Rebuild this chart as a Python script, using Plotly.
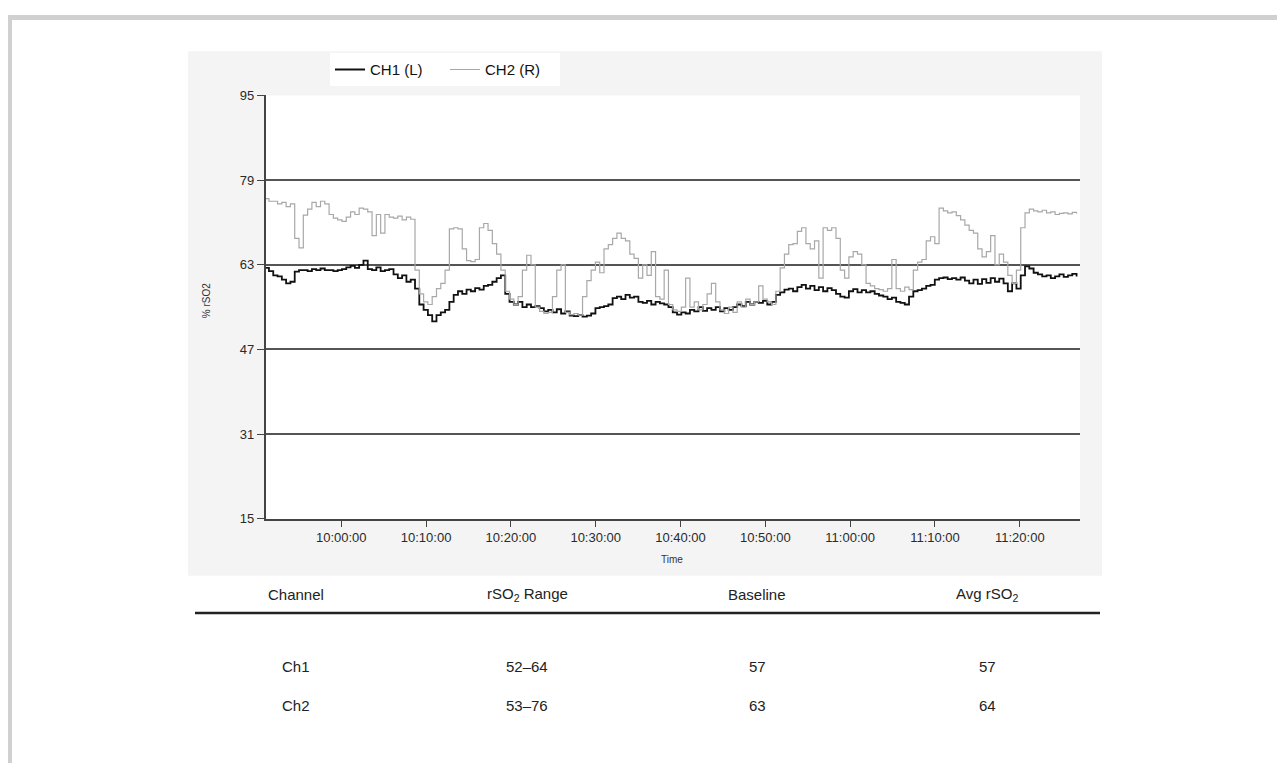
import plotly.graph_objects as go
import pandas as pd

# The page body has an 8px default margin, so the figure is offset by 8px;
# reference pixel positions are converted accordingly.
OFF = 8
W, H = 1277, 763


def px(x):
    return (x - OFF) / W


def py(y):
    return 1 - (y - OFF) / H


# ---------------- data ----------------
ch1_name = "CH1 (L)"
ch2_name = "CH2 (R)"

ch1 = [62.4, 61.8, 61, 60.8, 60.2, 59.5, 59.8, 61.7, 62, 62,
       61.8, 62.2, 62, 62.3, 62, 62, 61.8, 62, 62.2, 62.5,
       62.8, 62.4, 63, 63.8, 62.2, 62, 62.5, 61.8, 62, 62.2,
       61.2, 60.5, 61, 59.8, 60.2, 58.5, 55.5, 54.5, 53.5, 52.3,
       53.5, 54, 54.5, 56, 57.3, 58, 57.5, 58.3, 58, 58.6,
       58.3, 59, 59.2, 59.8, 60.5, 61, 57.5, 56, 55.5, 56,
       55, 55.5, 55, 55.2, 54.8, 54.2, 54.5, 54, 54.6, 53.8,
       54.2, 53.4, 53.3, 53.5, 53.2, 53.4, 53.8, 54.8, 55, 55.2,
       55.5, 56.7, 57, 56.5, 57.3, 56.8, 57, 56, 55.8, 56.2,
       55.5, 56, 55.7, 55.5, 55, 54, 53.6, 54, 53.8, 54.5,
       54.2, 55, 54.3, 54.8, 54.5, 55, 54.2, 54.8, 54.5, 55,
       55.5, 55.2, 56, 55.5, 56, 55.8, 56.2, 55.5, 56, 57.3,
       57.8, 58.3, 58.5, 58, 58.8, 59.2, 58.5, 59, 58.2, 58.8,
       58, 58.6, 58.2, 57.5, 57, 56.8, 58, 58.4, 57.8, 58.2,
       57.8, 58, 57.5, 57.2, 57, 56.5, 56.8, 56, 55.8, 55.5,
       57, 58, 58.2, 58.5, 59, 59.2, 60.2, 60.5, 60.6, 60.3,
       60.5, 60.2, 60.6, 60, 59.5, 60.2, 59.4, 60.3, 59.6, 60.5,
       59.8, 60.4, 59.5, 58, 59.5, 58.5, 61, 62.7, 62.3, 61.5,
       61.2, 60.8, 61, 60.5, 60.8, 61.2, 60.7, 61, 61.3, 60.8]

ch2 = [75.5, 75, 75, 74.5, 74.8, 74, 74.5, 68, 66.2, 72.4,
       73.5, 74.8, 74, 75, 74.5, 72.5, 71.8, 71.5, 71.2, 72,
       73, 72.5, 73.7, 73.5, 73, 68.5, 72.5, 69, 72.5, 72,
       71.8, 72.2, 71.5, 72, 71.6, 62, 57.5, 56, 55.5, 57,
       58.5, 59.5, 62, 69.8, 70, 69.8, 66, 63.8, 63.6, 64,
       70, 70.8, 69.5, 67, 65, 62, 58, 56.5, 55.5, 57,
       62, 64.8, 63, 55, 54.2, 53.8, 54, 57, 62, 63,
       54, 53.6, 53.8, 53.5, 57, 60, 62, 63.5, 61.5, 66,
       66.8, 68, 69, 68, 67.5, 65, 64.2, 60.5, 63, 61,
       65.5, 57, 56.5, 62, 55.5, 54.5, 54.2, 55, 60.5, 55,
       56, 54.5, 55.5, 57.5, 59.5, 56, 54.5, 53.8, 55, 54,
       56, 55, 56.5, 55.5, 56, 59, 56.5, 56, 55.5, 58,
       62.4, 65, 66.8, 67, 69.3, 70, 67, 66, 67.5, 60.5,
       70, 69.5, 70, 68, 62, 60.5, 64.5, 65.5, 65, 63,
       59.5, 59, 58.5, 58.3, 58, 58.5, 64, 58.5, 58, 58.8,
       58.3, 62, 63.5, 64, 67.5, 68.3, 67, 73.7, 73.2, 72.8,
       73, 72.3, 71.5, 70.5, 69.5, 69, 66, 64.5, 65.5, 68.5,
       63, 65, 63.5, 61, 59.5, 62, 70, 72.8, 73.5, 73.2,
       73, 73.3, 72.8, 73, 72.5, 72.7, 72.8, 72.6, 72.9, 72.7]

sample_start = "2020-01-01 09:50:58"
sample_step = "30390ms"
times = pd.date_range(sample_start, periods=len(ch1), freq=sample_step)

y_ticks = [15, 31, 47, 63, 79, 95]
x_range = ["2020-01-01 09:51:04", "2020-01-01 11:27:06"]
x_tick0 = "2020-01-01 10:00:00"

# summary table
tbl_head = ["Channel", "rSO<sub>2</sub> Range", "Baseline", "Avg rSO<sub>2</sub>"]
tbl_channel = ["Ch1", "Ch2"]
tbl_range = ["52–64", "53–76"]
tbl_baseline = ["57", "63"]
tbl_avg = ["57", "64"]

# ---------------- figure ----------------
FONT = "Liberation Sans, Arial, sans-serif"

fig = go.Figure()
fig.add_trace(go.Scatter(x=times, y=ch1, name=ch1_name, mode="lines",
                         line=dict(color="#111111", width=1.8, shape="hv")))
fig.add_trace(go.Scatter(x=times, y=ch2, name=ch2_name, mode="lines",
                         line=dict(color="#a8a8a8", width=1.2, shape="hv")))

shapes = [
    # outer frame
    dict(type="rect", xref="paper", yref="paper", x0=0, x1=px(12), y0=0, y1=1,
         fillcolor="#d0d0d0", line=dict(width=0), layer="below"),
    dict(type="rect", xref="paper", yref="paper", x0=0, x1=1, y0=py(13), y1=1,
         fillcolor="#d0d0d0", line=dict(width=0), layer="below"),
    # chart panel
    dict(type="rect", xref="paper", yref="paper", x0=px(188), x1=px(1102), y0=py(580), y1=py(45),
         fillcolor="#f4f4f4", line=dict(width=0), layer="below"),
    # plot area
    dict(type="rect", xref="paper", yref="paper", x0=px(265.5), x1=px(1080), y0=py(522), y1=py(90),
         fillcolor="#ffffff", line=dict(width=0), layer="below"),
    # table rule
    dict(type="line", xref="paper", yref="paper", x0=px(195), x1=px(1100), y0=py(618), y1=py(618),
         line=dict(color="#222222", width=2.5)),
]

annotations = [
    dict(text="Time", xref="paper", yref="paper", x=px(672), y=py(563), showarrow=False,
         xanchor="center", yanchor="middle",
         font=dict(family=FONT, size=10, color="#333333")),
    dict(text="% rSO2", xref="paper", yref="paper", x=px(206), y=py(300), showarrow=False,
         xanchor="center", yanchor="middle",
         textangle=-90, font=dict(family=FONT, size=10, color="#333333")),
]

col_x = [296, 527, 757, 987]
row_y = [673, 712]
for cx, t in zip(col_x, tbl_head):
    annotations.append(dict(text=t, xref="paper", yref="paper", x=px(cx), y=py(599),
                            xanchor="center", yanchor="middle",
                            showarrow=False, font=dict(family=FONT, size=15, color="#222222")))
for r, ry in enumerate(row_y):
    for cx, col in zip(col_x, [tbl_channel, tbl_range, tbl_baseline, tbl_avg]):
        annotations.append(dict(text=col[r], xref="paper", yref="paper", x=px(cx), y=py(ry),
                                xanchor="center", yanchor="middle",
                                showarrow=False, font=dict(family=FONT, size=15, color="#222222")))

fig.update_layout(
    width=W, height=H,
    margin=dict(l=0, r=0, t=0, b=0),
    paper_bgcolor="#ffffff",
    plot_bgcolor="rgba(0,0,0,0)",
    font=dict(family=FONT, size=12, color="#333333"),
    shapes=shapes,
    annotations=annotations,
    showlegend=True,
    legend=dict(orientation="h", x=px(330), y=py(47), xanchor="left", yanchor="top",
                bgcolor="#ffffff", font=dict(family=FONT, size=15, color="#111111"),
                itemwidth=30, entrywidth=70, entrywidthmode="pixels", tracegroupgap=0),
    xaxis=dict(domain=[px(265.5), px(1080)], range=x_range, type="date",
               tick0=x_tick0, dtick=600000, tickformat="%H:%M:%S",
               showgrid=False, zeroline=False, showline=True, linecolor="#444444", linewidth=1.5,
               ticks="outside", ticklen=6, tickcolor="#444444",
               tickfont=dict(family=FONT, size=13, color="#2a2a2a")),
    yaxis=dict(domain=[py(522), py(90)], range=[15, 95], tickvals=y_ticks,
               showgrid=True, gridcolor="#555555", gridwidth=1.5, zeroline=False,
               showline=True, linecolor="#444444", linewidth=1.5,
               ticks="outside", ticklen=7, tickcolor="#444444",
               tickfont=dict(family=FONT, size=13, color="#2a2a2a")),
)

fig.write_html("out.html")
